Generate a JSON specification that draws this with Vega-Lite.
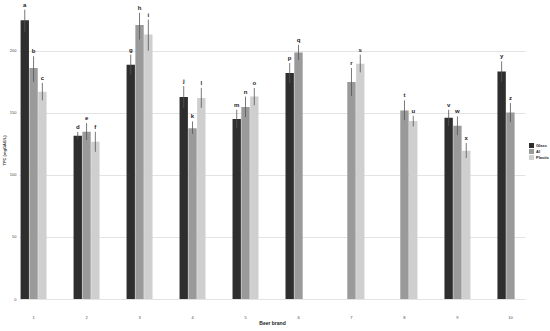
{
  "$schema": "https://vega.github.io/schema/vega-lite/v6.json",
  "autosize": "none",
  "width": 506,
  "height": 298,
  "padding": {"left": 19, "top": 1, "right": 25, "bottom": 32},
  "background": "white",
  "config": {"view": {"stroke": null}, "font": "Liberation Sans"},
  "data": {"values": [
    {"brand": "1", "pack": "Glass", "value": 224.4, "lo": 215, "hi": 233, "letter": "a"},
    {"brand": "1", "pack": "Al", "value": 186, "lo": 175, "hi": 195.5, "letter": "b"},
    {"brand": "1", "pack": "Plastic", "value": 167, "lo": 160, "hi": 174, "letter": "c"},
    {"brand": "2", "pack": "Glass", "value": 131.5, "lo": 128.5, "hi": 134.5, "letter": "d"},
    {"brand": "2", "pack": "Al", "value": 134.7, "lo": 128, "hi": 141.7, "letter": "e"},
    {"brand": "2", "pack": "Plastic", "value": 126.6, "lo": 118.5, "hi": 134.7, "letter": "f"},
    {"brand": "3", "pack": "Glass", "value": 188.7, "lo": 180.7, "hi": 196.8, "letter": "g"},
    {"brand": "3", "pack": "Al", "value": 220.7, "lo": 209, "hi": 230.5, "letter": "h"},
    {"brand": "3", "pack": "Plastic", "value": 213, "lo": 200, "hi": 225, "letter": "i"},
    {"brand": "4", "pack": "Glass", "value": 162.6, "lo": 154, "hi": 171.5, "letter": "j"},
    {"brand": "4", "pack": "Al", "value": 137.6, "lo": 133, "hi": 143, "letter": "k"},
    {"brand": "4", "pack": "Plastic", "value": 161.8, "lo": 154, "hi": 170, "letter": "l"},
    {"brand": "5", "pack": "Glass", "value": 145, "lo": 137.5, "hi": 152.4, "letter": "m"},
    {"brand": "5", "pack": "Al", "value": 154.6, "lo": 146.5, "hi": 163, "letter": "n"},
    {"brand": "5", "pack": "Plastic", "value": 163, "lo": 156, "hi": 170, "letter": "o"},
    {"brand": "6", "pack": "Glass", "value": 182, "lo": 174, "hi": 190, "letter": "p"},
    {"brand": "6", "pack": "Al", "value": 198.6, "lo": 192.5, "hi": 204.8, "letter": "q"},
    {"brand": "7", "pack": "Al", "value": 174.7, "lo": 163.5, "hi": 186, "letter": "r"},
    {"brand": "7", "pack": "Plastic", "value": 189.5, "lo": 182.5, "hi": 196.8, "letter": "s"},
    {"brand": "8", "pack": "Al", "value": 151.9, "lo": 144, "hi": 160, "letter": "t"},
    {"brand": "8", "pack": "Plastic", "value": 143.3, "lo": 139, "hi": 147.6, "letter": "u"},
    {"brand": "9", "pack": "Glass", "value": 146, "lo": 139.5, "hi": 152.4, "letter": "v"},
    {"brand": "9", "pack": "Al", "value": 139.5, "lo": 132, "hi": 147, "letter": "w"},
    {"brand": "9", "pack": "Plastic", "value": 119.4, "lo": 113.5, "hi": 125.6, "letter": "x"},
    {"brand": "10", "pack": "Glass", "value": 183.3, "lo": 175, "hi": 191.4, "letter": "y"},
    {"brand": "10", "pack": "Al", "value": 150.2, "lo": 142.5, "hi": 157.8, "letter": "z"}
  ]},
  "encoding": {
    "x": {
      "field": "brand", "type": "nominal",
      "sort": ["1","2","3","4","5","6","7","8","9","10"],
      "scale": {"paddingInner": 0.51, "paddingOuter": 0.03},
      "axis": {"labelAngle": 0, "domain": false, "ticks": false, "labelFontSize": 4, "labelColor": "#444", "labelPadding": 16, "title": "Beer brand", "titleFontSize": 5, "titleFontWeight": "bold", "titleColor": "#222", "titlePadding": 1}
    },
    "xOffset": {
      "field": "pack", "type": "nominal",
      "sort": ["Glass", "Al", "Plastic"],
      "scale": {"domain": ["Glass", "Al", "Plastic"], "paddingInner": 0.05}
    }
  },
  "layer": [
    {
      "mark": {"type": "bar"},
      "encoding": {
        "y": {
          "field": "value", "type": "quantitative",
          "scale": {"domain": [0, 240], "nice": false},
          "axis": {"values": [0, 50, 100, 150, 200], "domain": false, "ticks": false, "grid": true, "gridColor": "#dcdcdc", "gridWidth": 0.8, "labelFontSize": 4, "labelColor": "#444", "labelPadding": 3, "title": "TPC (mgGAE/L)", "titleFontSize": 4, "titleFontWeight": "bold", "titleColor": "#333", "titlePadding": 3}
        },
        "color": {
          "field": "pack", "type": "nominal",
          "scale": {"domain": ["Glass", "Al", "Plastic"], "range": ["#2e2e2e", "#9a9a9a", "#cfcfcf"]},
          "legend": {"title": null, "orient": "none", "legendX": 510, "legendY": 142, "symbolType": "square", "symbolSize": 25, "symbolStrokeWidth": 0, "labelFontSize": 4, "labelColor": "#222", "labelFontWeight": "bold", "rowPadding": 1, "labelOffset": 2}
        }
      }
    },
    {
      "mark": {"type": "rule", "color": "#555", "strokeWidth": 0.8},
      "encoding": {
        "y": {"field": "lo", "type": "quantitative"},
        "y2": {"field": "hi"}
      }
    },
    {
      "mark": {"type": "text", "dy": -5, "fontSize": 6, "fontWeight": "bold", "fill": "#222"},
      "encoding": {
        "y": {"field": "hi", "type": "quantitative"},
        "text": {"field": "letter"}
      }
    }
  ]
}
